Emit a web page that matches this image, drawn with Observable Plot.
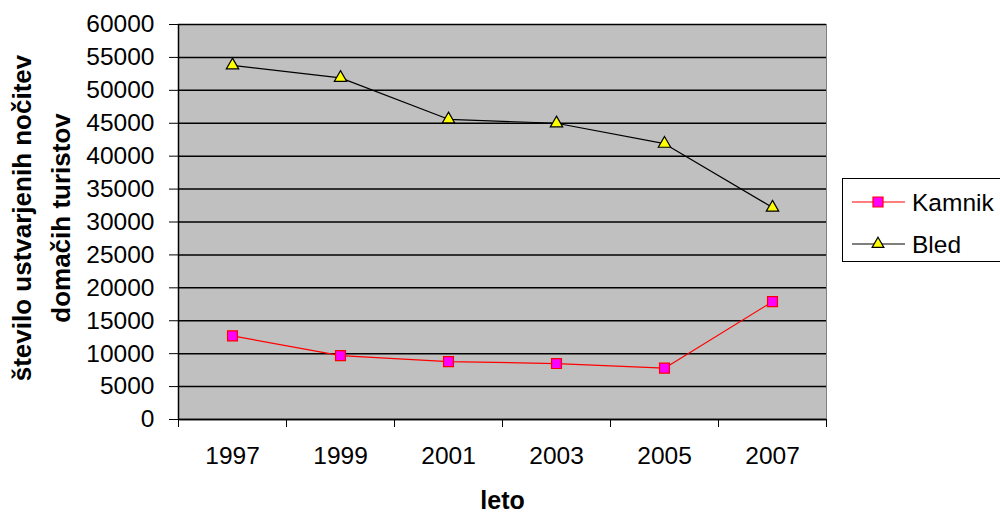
<!DOCTYPE html>
<html>
<head>
<meta charset="utf-8">
<script src="https://cdn.jsdelivr.net/npm/d3@7"></script>
<script src="https://cdn.jsdelivr.net/npm/@observablehq/plot@0.6"></script>
<style>
  html, body { margin: 0; padding: 0; background: #ffffff; overflow: hidden; }
  #wrap { position: relative; width: 1000px; height: 513px; font-family: "Liberation Sans", Arial, sans-serif; }
  #legend { position: absolute; left: 842px; top: 178px; width: 180px; height: 84px; border: 1.5px solid #000; box-sizing: border-box; background: #fff; }
</style>
</head>
<body>
<div id="wrap"><div id="legend"></div></div>
<script>
// Overnight stays of domestic tourists, Kamnik vs Bled
const years = [1997, 1999, 2001, 2003, 2005, 2007];
const kamnik = [12700, 9700, 8800, 8500, 7800, 17900];
const bled = [53800, 51900, 45600, 45000, 41900, 32200];
const seriesNames = ["Kamnik", "Bled"];
const yTicks = d3.range(0, 60001, 5000);
const yTitleLines = ["število ustvarjenih nočitev", "domačih turistov"];
const xTitle = "leto";

const font = "'Liberation Sans', Arial, sans-serif";

const rows = [
  ...years.map((year, i) => ({year, value: kamnik[i], series: seriesNames[0]})),
  ...years.map((year, i) => ({year, value: bled[i], series: seriesNames[1]}))
];
const kamnikRows = rows.filter(d => d.series === "Kamnik");
const bledRows = rows.filter(d => d.series === "Bled");

// category boundaries sit halfway between the two-year steps
const bounds = [years[0] - 1, ...years.map(y => y + 1)];

const chart = Plot.plot({
  width: 1000,
  height: 513,
  marginLeft: 178,
  marginRight: 174,
  marginTop: 24,
  marginBottom: 94,
  style: {fontFamily: font, fontSize: "24px", color: "#000", background: "#fff"},
  x: {domain: [bounds[0], bounds[bounds.length - 1]]},
  y: {domain: [0, 60000]},
  marks: [
    Plot.frame({fill: "#c0c0c0", stroke: "#808080"}),
    Plot.gridY({ticks: yTicks, stroke: "#000", strokeOpacity: 1, strokeWidth: 1.5}),
    Plot.axisY({ticks: yTicks, tickSize: 9, tickPadding: 15, tickFormat: d => String(d), label: null, fontSize: 24.5}),
    Plot.axisX({ticks: bounds, tickSize: 8, tickFormat: () => "", label: null}),
    Plot.axisX({ticks: years, tickSize: 0, tickPadding: 27, tickFormat: d => String(d), label: null, fontSize: 24.5}),
    Plot.ruleX([bounds[0]], {stroke: "#000", strokeWidth: 1.5}),
    Plot.ruleY([0], {stroke: "#000", strokeWidth: 1.5}),
    Plot.lineY(kamnikRows, {x: "year", y: "value", stroke: "#ff0000", strokeWidth: 1.2}),
    Plot.lineY(bledRows, {x: "year", y: "value", stroke: "#000", strokeWidth: 1.2}),
    Plot.dot(kamnikRows, {x: "year", y: "value", symbol: "square", r: 5.6, fill: "#ff00ff", stroke: "#ff0000", strokeWidth: 1.2}),
    Plot.dot(bledRows, {x: "year", y: "value", symbol: "triangle", r: 4.6, fill: "#ffff00", stroke: "#000", strokeWidth: 1.2}),
    Plot.text([yTitleLines.join("\n")], {
      frameAnchor: "left", rotate: -90, dx: -140, dy: -4, lineHeight: 1.5,
      fontWeight: "bold", fontSize: 26, fill: "#000", textAnchor: "middle"
    }),
    Plot.text([xTitle], {
      frameAnchor: "bottom", dy: 81, lineAnchor: "middle",
      fontWeight: "bold", fontSize: 25, fill: "#000"
    })
  ]
});
document.getElementById("wrap").prepend(chart);

// legend: swatch line + marker, then the series name
const legend = d3.select("#legend");
const lsvg = legend.append("svg").attr("width", 180).attr("height", 84)
  .style("position", "absolute").style("left", "-1.5px").style("top", "-1.5px");
const legendItems = [
  {name: seriesNames[0], line: "#ff0000", fill: "#ff00ff", stroke: "#ff0000", symbol: d3.symbolSquare, size: 100},
  {name: seriesNames[1], line: "#000", fill: "#ffff00", stroke: "#000", symbol: d3.symbolTriangle, size: 60}
];
legendItems.forEach((d, i) => {
  const cy = 24 + i * 42;
  const g = lsvg.append("g").attr("transform", `translate(0,${cy})`);
  g.append("line").attr("x1", 10).attr("x2", 63).attr("y1", 0).attr("y2", 0)
    .attr("stroke", d.line).attr("stroke-width", 1.2);
  g.append("path").attr("d", d3.symbol(d.symbol, d.size)()).attr("transform", "translate(36,0)")
    .attr("fill", d.fill).attr("stroke", d.stroke).attr("stroke-width", 1.2);
  g.append("text").attr("x", 70).attr("y", 0).attr("dy", "0.36em")
    .attr("font-family", font).attr("font-size", 24.5).attr("fill", "#000").text(d.name);
});
</script>
</body>
</html>
